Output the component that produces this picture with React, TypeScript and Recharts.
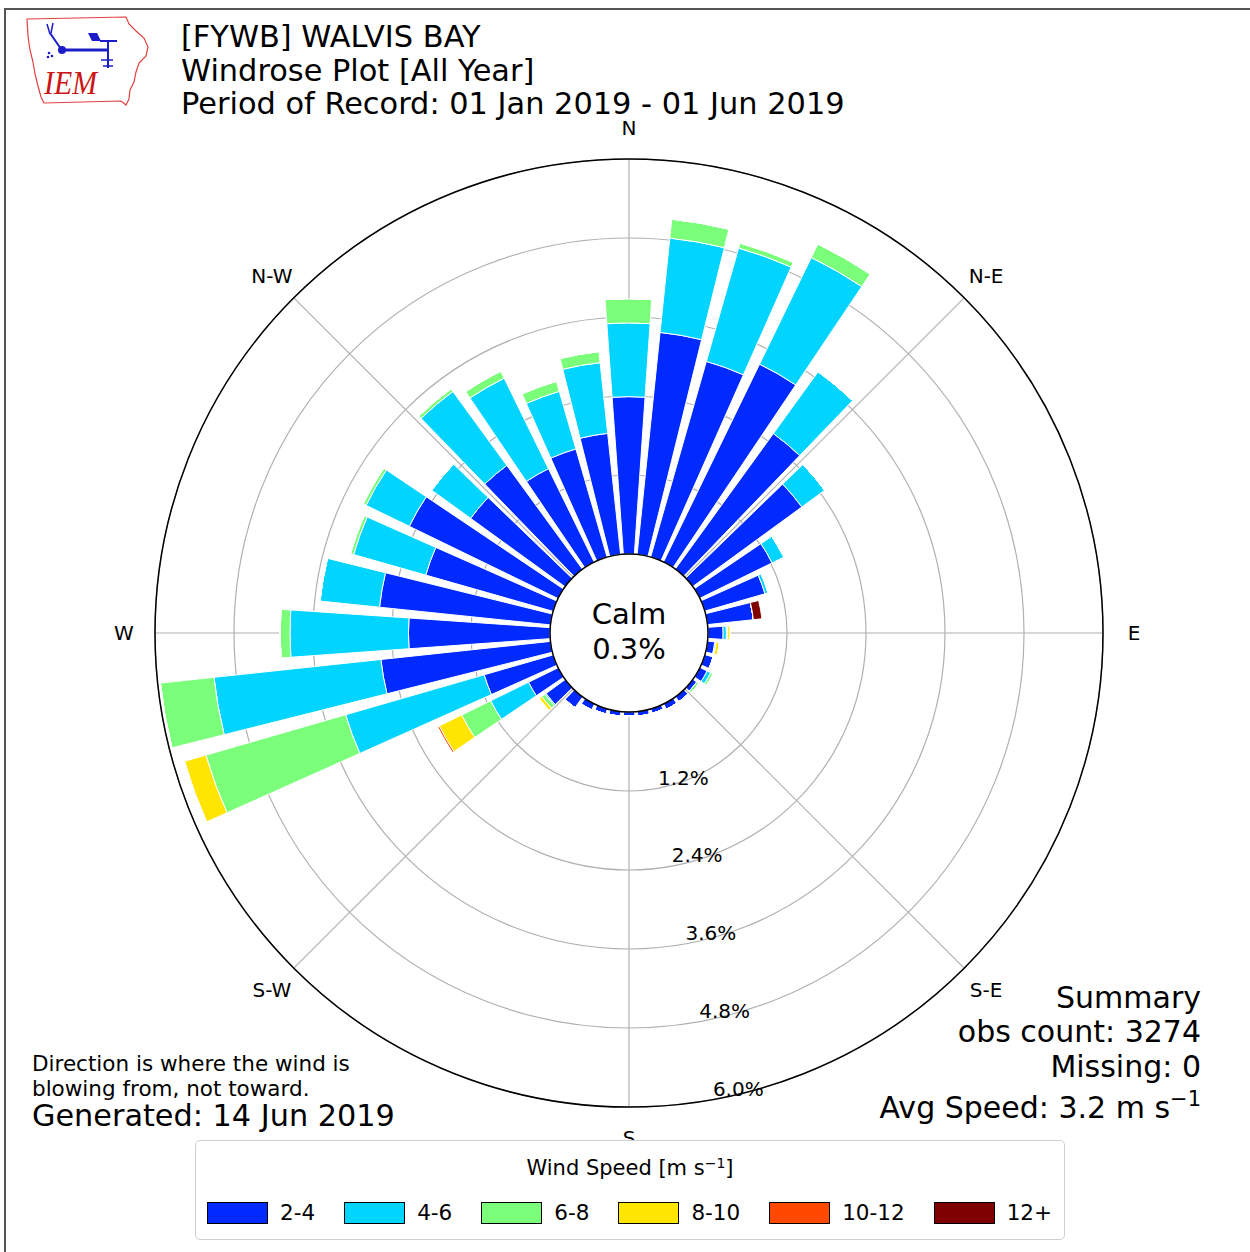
import React from "react";
import { RadialBarChart, RadialBar, PolarGrid, PolarAngleAxis, PolarRadiusAxis } from "recharts";

// wind direction (deg, where the wind blows from)
const DIRECTIONS = [
  0, 10, 20, 30, 40, 50, 60, 70, 80, 90, 100, 110, 120, 130, 140, 150, 160, 170,
  180, 190, 200, 210, 220, 230, 240, 250, 260, 270, 280, 290, 300, 310, 320, 330, 340, 350,
];

// frequency in percent, one array per speed bin
const SPEED_2_4 = [
  2.39, 3.39, 3.09, 3.34, 2.54, 2.05, 1.22, 0.95, 0.7, 0.23, 0.11, 0.13, 0.12, 0.07, 0.09, 0.09, 0.07, 0.07,
  0.06, 0.07, 0.08, 0.1, 0.2, 0.36, 0.5, 1.09, 2.59, 2.15, 2.61, 2.01, 2.51, 1.77, 1.95, 1.58, 1.71, 1.85,
];
const SPEED_4_6 = [
  1.12, 1.44, 1.79, 1.8, 1.16, 0.43, 0.2, 0.05, 0, 0.05, 0.02, 0, 0.06, 0, 0, 0, 0, 0,
  0, 0, 0, 0, 0, 0.02, 0.64, 2.19, 2.55, 1.8, 0.91, 1.14, 0.73, 0.73, 1.39, 1.53, 0.91, 1.08,
];
const SPEED_6_8 = [
  0.37, 0.29, 0.08, 0.23, 0, 0, 0, 0, 0, 0.02, 0, 0, 0.04, 0.04, 0, 0, 0, 0,
  0, 0, 0, 0, 0, 0.06, 0.49, 2.21, 0.82, 0.15, 0, 0.05, 0.05, 0, 0.05, 0.12, 0.16, 0.17,
];
const SPEED_8_10 = [
  0, 0, 0, 0, 0, 0, 0, 0, 0, 0.04, 0.05, 0, 0, 0, 0, 0, 0, 0,
  0, 0, 0, 0, 0, 0.05, 0.38, 0.34, 0, 0, 0, 0, 0, 0, 0, 0, 0, 0,
];
const SPEED_10_12 = [
  0, 0, 0, 0, 0, 0, 0, 0, 0, 0, 0, 0, 0, 0, 0, 0, 0, 0,
  0, 0, 0, 0, 0, 0, 0.03, 0, 0, 0, 0, 0, 0, 0, 0, 0, 0, 0,
];
const SPEED_12_UP = [
  0, 0, 0, 0, 0, 0, 0, 0, 0.13, 0, 0, 0, 0, 0, 0, 0, 0, 0,
  0, 0, 0, 0, 0, 0, 0, 0, 0, 0, 0, 0, 0, 0, 0, 0, 0, 0,
];

const BIN_LABELS = ["2-4", "4-6", "6-8", "8-10", "10-12", "12+"];
const BIN_KEYS = ["s2", "s4", "s6", "s8", "s10", "s12"];
const BIN_COLORS = ["#002aff", "#00d4ff", "#7bff7b", "#ffe500", "#ff4800", "#7f0000"];

const RING_TICKS = [1.2, 2.4, 3.6, 4.8, 6.0];
const COMPASS = ["N", "N-E", "E", "S-E", "S", "S-W", "W", "N-W"];

const data = DIRECTIONS.map((d, i) => ({
  dir: d,
  s2: SPEED_2_4[i],
  s4: SPEED_4_6[i],
  s6: SPEED_6_8[i],
  s8: SPEED_8_10[i],
  s10: SPEED_10_12[i],
  s12: SPEED_12_UP[i],
}));

const W = 1250;
const H = 1252;
const CX = 629;
const CY = 633;
const INNER_R = 79;
const OUTER_R = 474;
const FONT = "'DejaVu Sans', sans-serif";

const RingTick = (props: any) => {
  const { x, y, payload } = props;
  return (
    <text x={x + 27} y={y - 4} textAnchor="middle" fontSize={20} fontFamily={FONT} fill="#000">
      {Number(payload.value).toFixed(1)}%
    </text>
  );
};

function Logo() {
  return (
    <g>
      <path
        d="M27 19 L126 17 L129 24 L136 31 L144 38 L148 47 L146 56 L139 63 L136 72 L134 82 L130 90 L129 99 L126 105 L121 101 L44 103 L41 97 L38 86 L35 74 L33 62 L30 50 L28 36 Z"
        fill="none"
        stroke="#e04040"
        strokeWidth={1.2}
      />
      <text x={44} y={94} fontFamily="'Liberation Serif', serif" fontStyle="italic" fontSize={33} fill="#cc1515" textLength={53} lengthAdjust="spacingAndGlyphs">
        IEM
      </text>
      <g stroke="#1c1cc8" fill="#1c1cc8">
        <line x1={47} y1={24} x2={50} y2={34} strokeWidth={1.5} />
        <line x1={53} y1={23} x2={51} y2={33} strokeWidth={1.5} />
        <line x1={50} y1={33} x2={61} y2={49} strokeWidth={2} />
        <circle cx={62} cy={50} r={4} stroke="none" />
        <line x1={62} y1={50} x2={108} y2={50} strokeWidth={3} />
        <path d="M88 33 L97 33 L101 41 L92 41 Z" stroke="none" />
        <line x1={100} y1={41} x2={117} y2={41} strokeWidth={2} />
        <line x1={108} y1={41} x2={108} y2={68} strokeWidth={2} />
        <line x1={101} y1={60} x2={113} y2={60} strokeWidth={1.5} />
        <line x1={103} y1={66} x2={113} y2={66} strokeWidth={1.5} />
        <circle cx={49} cy={53} r={1.3} stroke="none" />
        <circle cx={52} cy={56} r={1.3} stroke="none" />
        <circle cx={48} cy={57} r={1.3} stroke="none" />
      </g>
    </g>
  );
}

function Overlay() {
  const labelR = 505;
  return (
    <svg width={W} height={H} style={{ position: "absolute", left: 0, top: 0, pointerEvents: "none" }} fontFamily={FONT}>
      <Logo />
      <text x={181} y={47} fontSize={30.4} fill="#000">[FYWB] WALVIS BAY</text>
      <text x={181} y={81} fontSize={30.4} fill="#000">Windrose Plot [All Year]</text>
      <text x={181} y={114} fontSize={30.4} fill="#000">Period of Record: 01 Jan 2019 - 01 Jun 2019</text>

      <circle cx={CX} cy={CY} r={INNER_R} fill="none" stroke="#000" strokeWidth={1.5} />
      <text x={CX} y={624} textAnchor="middle" fontSize={29} fill="#000">Calm</text>
      <text x={CX} y={659} textAnchor="middle" fontSize={29} fill="#000">0.3%</text>

      {COMPASS.map((c, i) => {
        const a = (i * 45 * Math.PI) / 180;
        return (
          <text
            key={c}
            x={CX + labelR * Math.sin(a)}
            y={CY - labelR * Math.cos(a)}
            textAnchor="middle"
            dominantBaseline="central"
            fontSize={20}
            fill="#000"
          >
            {c}
          </text>
        );
      })}

      <text x={1201} y={1008} textAnchor="end" fontSize={30} fill="#000">Summary</text>
      <text x={1201} y={1042} textAnchor="end" fontSize={30} fill="#000">obs count: 3274</text>
      <text x={1201} y={1077} textAnchor="end" fontSize={30} fill="#000">Missing: 0</text>
      <text x={1201} y={1118} textAnchor="end" fontSize={30} fill="#000">
        Avg Speed: 3.2 m s<tspan dy={-12} fontSize={21}>−1</tspan>
      </text>

      <text x={32} y={1071} fontSize={21.5} fill="#000">Direction is where the wind is</text>
      <text x={32} y={1096} fontSize={21.5} fill="#000">blowing from, not toward.</text>
      <text x={32} y={1126} fontSize={30.3} fill="#000">Generated: 14 Jun 2019</text>
    </svg>
  );
}

function WindLegend() {
  return (
    <div
      style={{
        position: "absolute",
        left: 195,
        top: 1140,
        width: 870,
        height: 100,
        boxSizing: "border-box",
        border: "1px solid #d0d0d0",
        borderRadius: 5,
        background: "#fff",
        fontFamily: FONT,
        color: "#000",
      }}
    >
      <div style={{ position: "absolute", top: 10, width: "100%", textAlign: "center", fontSize: 21, lineHeight: "24px" }}>
        Wind Speed [m s<sup style={{ fontSize: 14, verticalAlign: "7px" }}>−1</sup>]
      </div>
      <div
        style={{
          position: "absolute",
          top: 60,
          left: 11,
          width: 860,
          display: "flex",
          alignItems: "center",
          whiteSpace: "nowrap",
        }}
      >
        {BIN_LABELS.map((b, i) => (
          <div key={b} style={{ display: "flex", alignItems: "center", marginRight: 29, flexShrink: 0 }}>
            <div style={{ width: 61, height: 22, boxSizing: "border-box", border: "1px solid #000", background: BIN_COLORS[i] }} />
            <span style={{ marginLeft: 12, fontSize: 21.5, lineHeight: "24px" }}>{b}</span>
          </div>
        ))}
      </div>
    </div>
  );
}

export default function App() {
  return (
    <div style={{ position: "absolute", left: 0, top: 0, width: W, height: H, background: "#fff", overflow: "hidden" }}>
      <div style={{ position: "absolute", left: 4, top: 8, width: W + 10, height: H + 10, border: "2px solid #555", boxSizing: "border-box" }} />
      <RadialBarChart
        width={W}
        height={H}
        data={data}
        cx={CX}
        cy={CY}
        innerRadius={INNER_R}
        outerRadius={OUTER_R}
        startAngle={85}
        endAngle={-275}
        layout="centric"
        barCategoryGap="11%"
        margin={{ top: 0, right: 0, bottom: 0, left: 0 }}
        style={{ position: "absolute", left: 0, top: 0 }}
      >
        <PolarGrid gridType="circle" polarAngles={[90, 45, 0, -45, -90, -135, 180, 135]} stroke="#b0b0b0" strokeWidth={1.2} />
        <PolarAngleAxis
          dataKey="dir"
          type="category"
          tick={false}
          tickLine={false}
          axisLineType="circle"
          axisLine={{ stroke: "#000", strokeWidth: 1.5 }}
        />
        <PolarRadiusAxis
          type="number"
          domain={[0, 6]}
          ticks={RING_TICKS}
          angle={-80}
          axisLine={false}
          tickLine={false}
          tick={<RingTick />}
        />
        {BIN_KEYS.map((k, i) => (
          <RadialBar
            key={k}
            dataKey={k}
            stackId="wind"
            fill={BIN_COLORS[i]}
            stroke="#fff"
            strokeWidth={1}
            isAnimationActive={false}
          />
        ))}
      </RadialBarChart>
      <Overlay />
      <WindLegend />
    </div>
  );
}
